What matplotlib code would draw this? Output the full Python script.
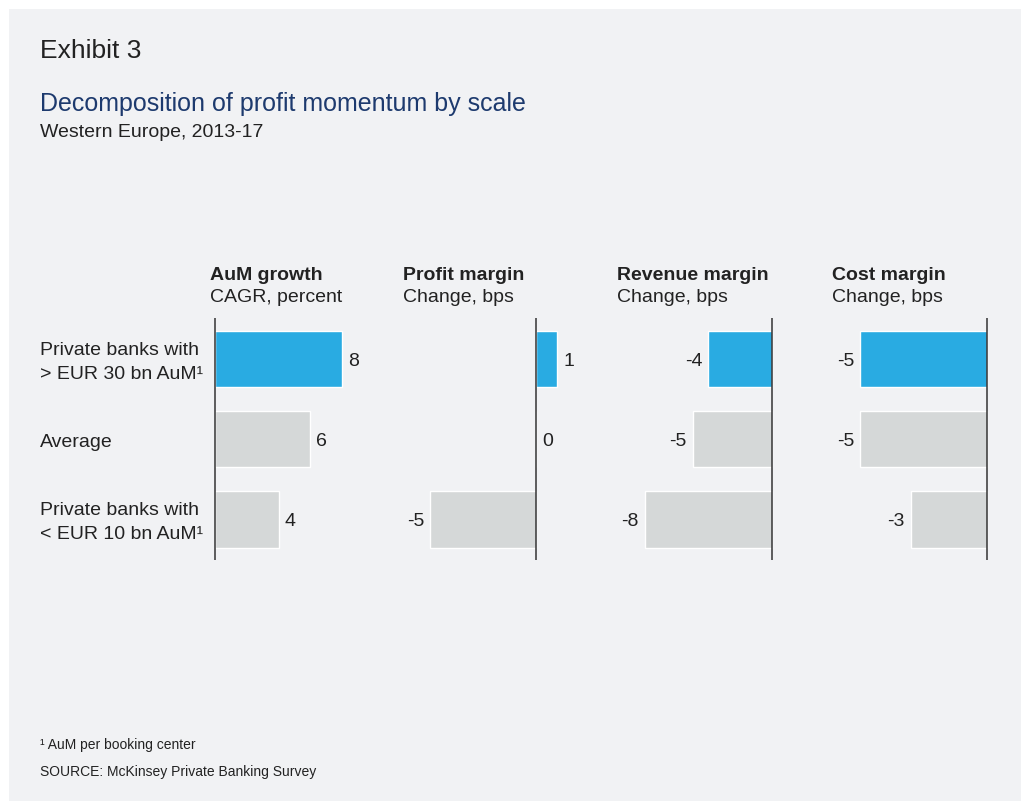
import matplotlib
matplotlib.use("Agg")
import matplotlib.pyplot as plt
from matplotlib.patches import Rectangle

# ---- data ----
categories = ["Private banks with\n> EUR 30 bn AuM\u00b9",
              "Average",
              "Private banks with\n< EUR 10 bn AuM\u00b9"]
metrics = ["AuM growth", "Profit margin", "Revenue margin", "Cost margin"]
units = ["CAGR, percent", "Change, bps", "Change, bps", "Change, bps"]
aum_growth = [8, 6, 4]
profit_margin = [1, 0, -5]
revenue_margin = [-4, -5, -8]
cost_margin = [-5, -5, -3]
highlight = [True, False, False]

series = [aum_growth, profit_margin, revenue_margin, cost_margin]

# ---- style ----
W, H = 1029, 801
BG = "#f1f2f4"
BLUE = "#29abe2"
GREY = "#d5d8d8"
TEXT = "#222222"
NAVY = "#1d3a6e"
plt.rcParams["font.family"] = ["Liberation Sans", "DejaVu Sans"]

fig = plt.figure(figsize=(W / 100, H / 100), dpi=100)
fig.patch.set_facecolor("white")
fig.patches.append(Rectangle((9 / W, 0), (1021 - 9) / W, (H - 9) / H,
                             transform=fig.transFigure, facecolor=BG,
                             edgecolor="none", zorder=-10))


def fx(px):
    return px / W


def fy(py):
    return 1 - py / H


# titles
fig.text(fx(40), fy(58), "Exhibit 3", fontsize=19, color=TEXT, va="baseline")
fig.text(fx(40), fy(111), "Decomposition of profit momentum by scale",
         fontsize=18, color=NAVY, va="baseline")
fig.text(fx(40), fy(137), "Western Europe, 2013-17", fontsize=14,
         color=TEXT, va="baseline")

# footnotes
fig.text(fx(40), fy(749), "\u00b9 AuM per booking center", fontsize=10,
         color=TEXT, va="baseline")
fig.text(fx(40), fy(776), "SOURCE: McKinsey Private Banking Survey",
         fontsize=10, color=TEXT, va="baseline")

# panel geometry: (axes left px, axes right px, zero px, px per unit, header x px)
panels = [
    (200, 385, 215, 15.9, 210),
    (395, 600, 536, 21.2, 403),
    (610, 805, 772, 15.9, 617),
    (820, 1005, 987, 25.4, 832),
]
top_px, bot_px = 318, 560

axes = []
for (l, r, zero, scale, hx), name, unit, vals in zip(panels, metrics, units, series):
    ax = fig.add_axes([fx(l), fy(bot_px), (r - l) / W, (bot_px - top_px) / H])
    ax.set_facecolor("none")
    ax.set_xlim((l - zero) / scale, (r - zero) / scale)
    ax.set_ylim(2.505, -0.51)
    ypos = list(range(len(vals)))
    colors = [BLUE if h else GREY for h in highlight]
    ax.barh(ypos, vals, height=0.7, color=colors, edgecolor="white",
            linewidth=1.0, zorder=2)
    ax.axvline(0, color="#333333", lw=1.1, zorder=3)
    for y, v in zip(ypos, vals):
        if v >= 0:
            ax.annotate(f"{v}", xy=(v, y), xytext=(4.3, -5), textcoords="offset points",
                        ha="left", va="baseline", fontsize=14, color=TEXT)
        else:
            ax.annotate(f"{v}", xy=(v, y), xytext=(-4.3, -5), textcoords="offset points",
                        ha="right", va="baseline", fontsize=14, color=TEXT)
    ax.axis("off")
    fig.text(fx(hx), fy(279.5), name, fontsize=14, fontweight="bold",
             color=TEXT, va="baseline")
    fig.text(fx(hx), fy(302.5), unit, fontsize=14, color=TEXT, va="baseline")
    axes.append(ax)

# category labels on the left, aligned to the bar rows
ax0 = axes[0]
for i, cat in enumerate(categories):
    lines = cat.split("\n")
    if len(lines) == 1:
        offsets = [-5.6]
    else:
        offsets = [3.1, -14.3]
    for line, off in zip(lines, offsets):
        ax0.annotate(line, xy=(fx(40), i), xycoords=(fig.transFigure, ax0.transData),
                     xytext=(0, off), textcoords="offset points",
                     ha="left", va="baseline", fontsize=14, color=TEXT,
                     annotation_clip=False)

fig.savefig("out.png", dpi=100, facecolor=fig.get_facecolor())
